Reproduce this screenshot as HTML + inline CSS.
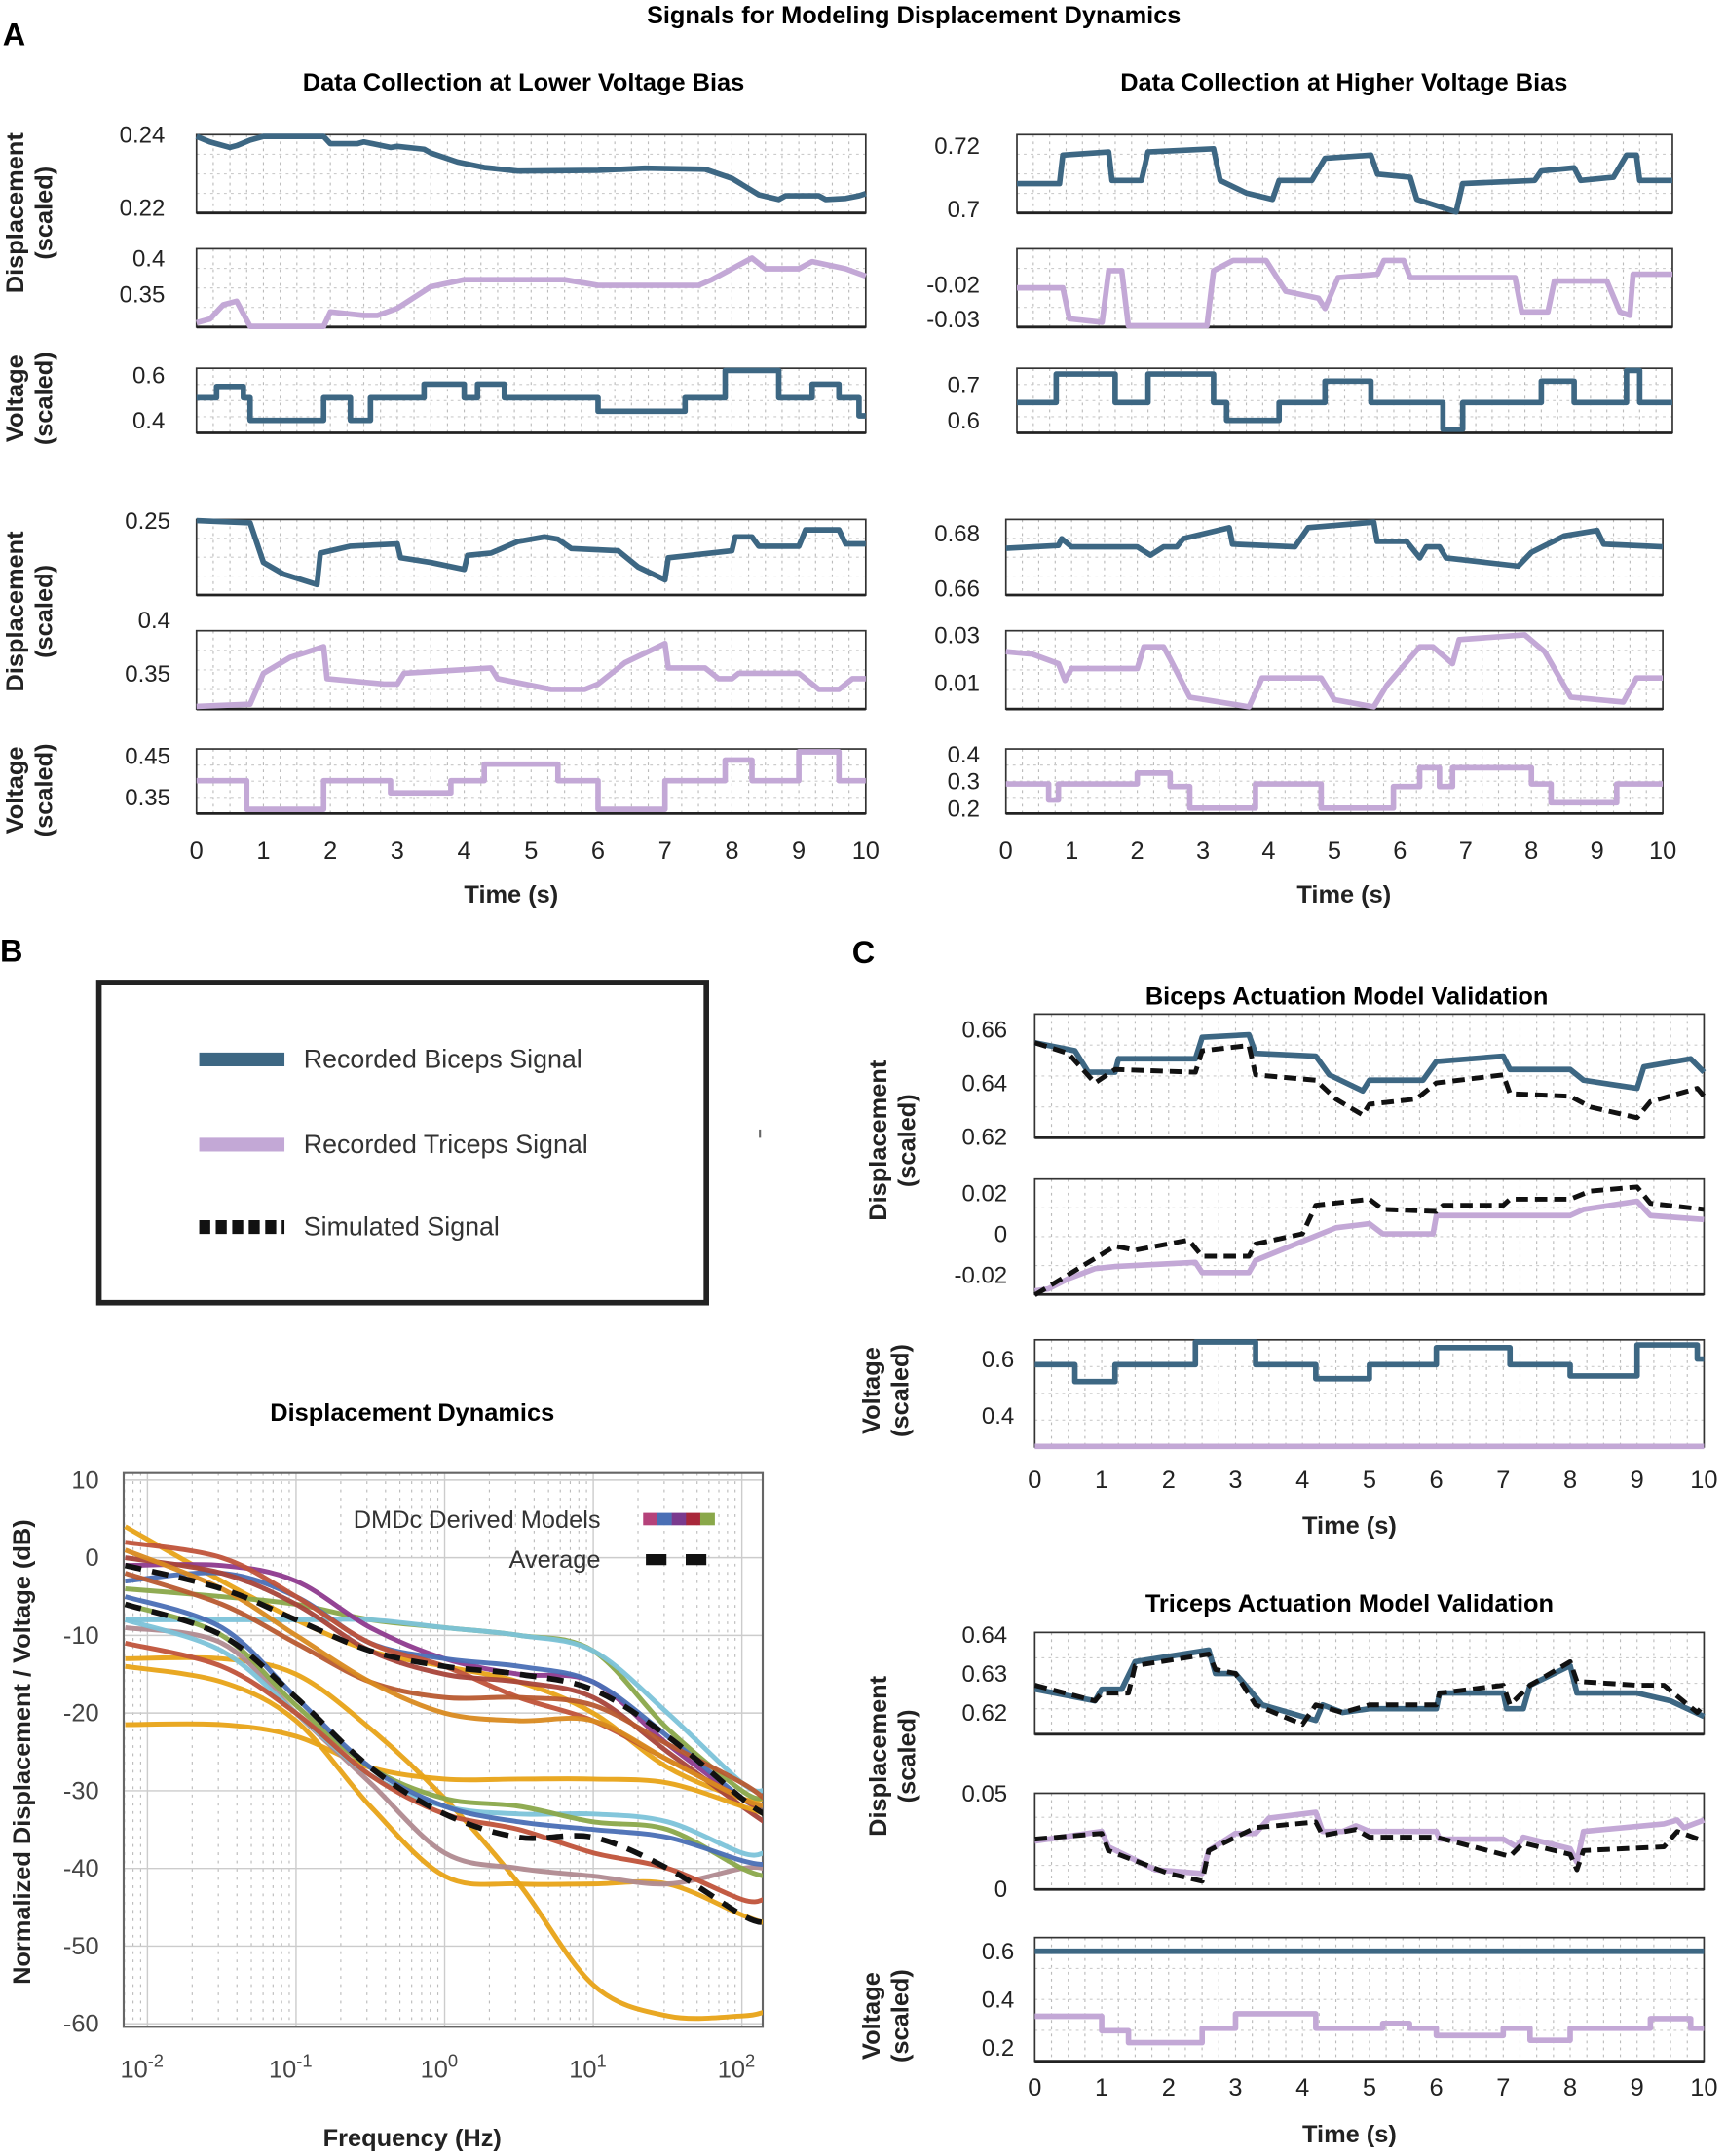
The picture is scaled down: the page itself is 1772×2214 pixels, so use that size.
<!DOCTYPE html>
<html><head><meta charset="utf-8"><style>
html,body{margin:0;padding:0;background:#fff;}
svg{display:block;}
text{font-family:"Liberation Sans",sans-serif;}
</style></head><body>
<svg id="fig" width="1772" height="2214" viewBox="0 0 1256 1569" preserveAspectRatio="none" xmlns="http://www.w3.org/2000/svg">
<text x="665" y="17" text-anchor="middle" font-size="18" font-weight="bold">Signals for Modeling Displacement Dynamics</text>
<text x="2" y="33" font-size="23" font-weight="bold">A</text>
<text x="0" y="700" font-size="23" font-weight="bold">B</text>
<text x="620" y="701" font-size="23" font-weight="bold">C</text>
<text x="381" y="66" text-anchor="middle" font-size="18" font-weight="bold">Data Collection at Lower Voltage Bias</text>
<text x="978" y="66" text-anchor="middle" font-size="18" font-weight="bold">Data Collection at Higher Voltage Bias</text>
<text x="980" y="731" text-anchor="middle" font-size="18" font-weight="bold">Biceps Actuation Model Validation</text>
<text x="982" y="1173" text-anchor="middle" font-size="18" font-weight="bold">Triceps Actuation Model Validation</text>
<text x="300" y="1034" text-anchor="middle" font-size="18" font-weight="bold">Displacement Dynamics</text>
<g>
<rect x="72" y="715" width="442" height="233" fill="none" stroke="#222" stroke-width="4"/>
<line x1="145" y1="771" x2="207" y2="771" stroke="#3d6783" stroke-width="10"/>
<text x="221" y="777" font-size="19" fill="#333">Recorded Biceps Signal</text>
<line x1="145" y1="833" x2="207" y2="833" stroke="#c3a8d6" stroke-width="10"/>
<text x="221" y="839" font-size="19" fill="#333">Recorded Triceps Signal</text>
<line x1="145" y1="893" x2="207" y2="893" stroke="#111" stroke-width="10" stroke-dasharray="8,4"/>
<text x="221" y="899" font-size="19" fill="#333">Simulated Signal</text>
</g>
<line x1="553" y1="822" x2="553" y2="828" stroke="#666" stroke-width="1.5"/>
</svg>
<script>
// ---- Panel A data (time in s, values scaled) ----
const a1T=[0,0.2,0.5,0.6,0.8,1,1.9,2,2.4,2.5,2.9,3,3.4,3.5,3.9,4.3,4.8,6,6.7,7.6,8.0,8.4,8.7,8.8,9.3,9.4,9.7,9.9,10];
const a1V=[0.2395,0.238,0.2365,0.237,0.2385,0.2395,0.2395,0.2375,0.2375,0.238,0.2365,0.2368,0.236,0.235,0.2325,0.231,0.2300,0.2302,0.2308,0.2305,0.228,0.2235,0.2222,0.2232,0.2232,0.2222,0.2225,0.2232,0.2238];
const a2T=[0,0.2,0.4,0.6,0.8,1.0,1.9,2.0,2.5,2.7,3.0,3.5,4.0,5.5,6.0,7.5,7.7,8.3,8.5,9.0,9.2,9.7,10];
const a2V=[0.31,0.315,0.335,0.34,0.305,0.305,0.305,0.325,0.32,0.32,0.33,0.36,0.37,0.37,0.362,0.362,0.37,0.40,0.385,0.385,0.395,0.385,0.375];
const a3T=[0,0.3,0.7,0.8,1.9,2.3,2.6,3.4,4.0,4.2,4.6,6.0,7.3,7.9,8.7,9.2,9.6,9.9,10];
const a3V=[0.5,0.55,0.5,0.4,0.5,0.4,0.5,0.56,0.5,0.56,0.5,0.44,0.5,0.62,0.5,0.56,0.5,0.42];
const a4T=[0,0.8,1.0,1.3,1.8,1.85,2.3,3.0,3.05,3.5,4.0,4.05,4.4,4.8,5.2,5.4,5.6,6.3,6.6,7.0,7.05,8.0,8.05,8.3,8.4,9.0,9.1,9.6,9.7,10];
const a4V=[0.25,0.249,0.232,0.227,0.2225,0.236,0.239,0.240,0.234,0.232,0.229,0.235,0.236,0.241,0.243,0.242,0.238,0.237,0.23,0.2245,0.234,0.237,0.243,0.243,0.239,0.239,0.246,0.246,0.240,0.240];
const a5T=[0,0.8,1.0,1.4,1.9,1.95,2.8,3.0,3.1,4.4,4.5,5.3,5.8,6.0,6.4,7.0,7.05,7.6,7.8,8.0,8.1,9.0,9.3,9.6,9.8,10];
const a5V=[0.319,0.321,0.35,0.365,0.375,0.345,0.34,0.34,0.35,0.355,0.345,0.335,0.335,0.34,0.36,0.378,0.355,0.355,0.345,0.345,0.35,0.35,0.335,0.335,0.345,0.345];
const a6T=[0,0.75,1.9,2.9,3.8,4.3,5.4,6.0,7.0,7.9,8.3,9.0,9.6,10];
const a6V=[0.39,0.32,0.39,0.36,0.39,0.43,0.39,0.32,0.39,0.44,0.39,0.46,0.39];
const r1T=[0,0.65,0.7,1.4,1.45,1.9,2.0,3.0,3.1,3.5,3.9,4.0,4.5,4.7,5.4,5.5,6.0,6.1,6.7,6.8,7.9,8.0,8.5,8.6,9.1,9.3,9.45,9.5,10];
const r1V=[0.708,0.708,0.717,0.718,0.709,0.709,0.718,0.719,0.709,0.705,0.703,0.709,0.709,0.716,0.717,0.711,0.710,0.703,0.699,0.708,0.709,0.712,0.713,0.709,0.710,0.717,0.717,0.709,0.709];
const r2T=[0,0.7,0.8,1.3,1.4,1.6,1.7,2.9,3.0,3.3,3.8,4.1,4.6,4.7,4.9,5.5,5.6,5.9,6.0,7.6,7.7,8.1,8.2,9.0,9.2,9.35,9.4,10];
const r2V=[-0.021,-0.021,-0.03,-0.031,-0.016,-0.016,-0.032,-0.032,-0.016,-0.013,-0.013,-0.022,-0.024,-0.027,-0.018,-0.017,-0.013,-0.013,-0.018,-0.018,-0.028,-0.028,-0.019,-0.019,-0.028,-0.029,-0.017,-0.017];
const r3T=[0,0.6,1.5,2.0,3.0,3.2,4.0,4.7,5.4,6.5,6.8,8.0,8.5,9.3,9.5,10];
const r3V=[0.65,0.73,0.65,0.73,0.65,0.60,0.65,0.71,0.65,0.575,0.65,0.71,0.65,0.74,0.65];
const r4T=[0,0.8,0.85,1.0,2.0,2.2,2.4,2.6,2.7,3.4,3.45,4.4,4.6,5.6,5.65,6.1,6.3,6.4,6.6,6.7,7.8,8.0,8.5,9.0,9.1,10];
const r4V=[0.6745,0.6755,0.678,0.675,0.675,0.672,0.675,0.675,0.678,0.682,0.676,0.675,0.682,0.684,0.677,0.677,0.671,0.675,0.675,0.671,0.668,0.673,0.679,0.681,0.676,0.675];
const r5T=[0,0.4,0.8,0.9,1.0,2.0,2.1,2.4,2.5,2.8,3.7,3.9,4.8,5.0,5.6,5.8,6.3,6.5,6.8,6.9,7.9,8.2,8.6,9.4,9.6,10];
const r5V=[0.023,0.022,0.018,0.011,0.016,0.016,0.025,0.025,0.02,0.004,0.0,0.012,0.012,0.003,0.0,0.009,0.025,0.025,0.018,0.028,0.030,0.023,0.004,0.002,0.012,0.012];
const r6T=[0,0.65,0.8,2.0,2.5,2.8,3.8,4.8,5.9,6.3,6.6,6.8,8.0,8.3,9.3,10];
const r6V=[0.29,0.23,0.29,0.33,0.28,0.2,0.29,0.2,0.28,0.35,0.28,0.35,0.29,0.22,0.29];
// ---- Panel C data ----
const c1T=[0,0.6,0.8,1.2,1.25,2.4,2.5,3.2,3.3,4.2,4.4,4.9,5.0,5.8,6.0,7.0,7.1,8.0,8.2,9.0,9.1,9.8,10];
const c1V=[0.655,0.652,0.644,0.644,0.649,0.649,0.657,0.658,0.651,0.650,0.643,0.637,0.641,0.641,0.648,0.650,0.645,0.645,0.641,0.638,0.646,0.649,0.644];
const c1SimT=[0,0.5,0.9,1.2,2.4,2.5,3.2,3.3,4.2,4.5,4.9,5.0,5.7,6.0,7.0,7.1,8.0,8.3,9.0,9.2,9.9,10];
const c1SimV=[0.655,0.651,0.640,0.645,0.644,0.652,0.654,0.643,0.641,0.634,0.628,0.632,0.634,0.640,0.643,0.636,0.635,0.631,0.627,0.633,0.638,0.635];
const c2T=[0,0.2,0.5,0.9,1.2,2.4,2.5,3.2,3.3,3.9,4.5,5.0,5.2,5.95,6.0,8.0,8.2,9.0,9.2,10];
const c2V=[-0.028,-0.027,-0.022,-0.017,-0.016,-0.014,-0.019,-0.019,-0.013,-0.005,0.003,0.005,0.0,0.0,0.009,0.009,0.012,0.016,0.009,0.007];
const c2SimT=[0,0.5,1.0,1.2,1.5,2.3,2.5,3.2,3.3,4.0,4.2,5.0,5.2,6.0,6.1,7.0,7.1,8.0,8.3,9.0,9.2,10];
const c2SimV=[-0.030,-0.020,-0.010,-0.006,-0.008,-0.003,-0.011,-0.011,-0.005,0.0,0.014,0.017,0.012,0.011,0.014,0.014,0.017,0.017,0.021,0.023,0.015,0.012];
const c3T=[0,0.6,1.2,2.4,3.3,4.2,5.0,6.0,7.1,8.0,9.0,9.9,10];
const c3V=[0.58,0.52,0.58,0.66,0.58,0.53,0.58,0.64,0.58,0.54,0.65,0.6];
const c3TriT=[0,10];
const c3TriV=[0.29];
const c4T=[0,0.9,1.0,1.3,1.5,2.6,2.7,3.0,3.4,4.2,4.3,4.6,5.0,6.0,6.05,7.0,7.05,7.3,7.4,8.0,8.1,9.0,9.5,10];
const c4V=[0.626,0.623,0.626,0.626,0.633,0.636,0.630,0.630,0.622,0.618,0.622,0.620,0.621,0.621,0.625,0.625,0.621,0.621,0.627,0.632,0.625,0.625,0.623,0.619];
const c4SimT=[0,0.9,1.0,1.4,1.5,2.6,2.7,3.0,3.3,4.0,4.2,4.6,5.0,6.0,6.05,7.0,7.1,7.4,8.0,8.1,9.0,9.4,9.9,10];
const c4SimV=[0.627,0.623,0.625,0.625,0.632,0.635,0.631,0.630,0.622,0.617,0.622,0.620,0.622,0.622,0.625,0.627,0.622,0.627,0.633,0.628,0.627,0.627,0.620,0.622];
const c5T=[0,1.0,1.1,1.8,2.5,2.6,3.0,3.3,3.5,4.2,4.3,4.6,4.8,5.0,6.0,6.05,7.0,7.2,7.3,8.0,8.1,8.2,9.4,9.6,9.7,10];
const c5V=[0.025,0.030,0.022,0.010,0.008,0.020,0.029,0.029,0.037,0.040,0.030,0.030,0.033,0.030,0.030,0.026,0.026,0.022,0.027,0.021,0.014,0.030,0.034,0.036,0.032,0.036];
const c5SimT=[0,1.0,1.1,2.0,2.5,2.6,3.0,3.3,4.2,4.3,4.8,5.0,6.0,7.1,7.3,8.0,8.1,8.2,9.4,9.6,10];
const c5SimV=[0.026,0.029,0.020,0.008,0.004,0.020,0.027,0.032,0.035,0.028,0.031,0.027,0.027,0.017,0.024,0.018,0.010,0.020,0.022,0.030,0.025];
const c6T=[0,1.0,1.4,2.5,3.0,4.2,5.2,5.6,6.0,7.0,7.4,8.0,9.2,9.8,10];
const c6V=[0.33,0.27,0.22,0.28,0.34,0.28,0.30,0.28,0.25,0.28,0.23,0.28,0.32,0.28];
const c6BicT=[0,10];
const c6BicV=[0.6];
// ---- Panel B (bode) data: dB at log10 frequencies ----
const bodeLogF=[-2.15,-1.5,-1,-0.5,0,0.5,1,1.5,2,2.15];
const bodeColors=["#e8a317","#8aa84a","#7cc3d9","#8e3a8e","#4a6fb5","#c0533a","#a8453a","#e8a317","#e8a317","#e8a317","#b08a90","#7cc3d9","#8aa84a","#c0533a","#4a6fb5","#b85a30","#d98a20"];
const bodeModels=[
[4,-3,-8,-12,-14,-16,-20,-27,-31,-31],
[-4,-5,-6,-8,-9,-10,-12,-22,-30,-31],
[-8,-8,-8,-8,-9,-10,-12,-20,-29,-30],
[-1,-1,-3,-9,-13,-15,-16,-24,-31,-32],
[-3,-2,-5,-11,-13,-14,-16,-23,-31,-32],
[2,0,-5,-11,-14,-18,-21,-26,-31,-33],
[0,-2,-6,-12,-15,-16,-18,-25,-32,-34],
[-21.5,-21.5,-23,-27,-28.5,-28.5,-28.5,-29,-32,-33],
[-13,-13,-15,-22,-31,-42,-55,-59,-59,-58.5],
[-14,-16,-21,-32,-41,-42,-42,-42,-46,-47],
[-9,-11,-20,-29,-38,-40,-41,-42,-40,-40],
[-8,-12,-20,-28,-32,-33,-33,-34,-38,-38],
[-6,-10,-19,-27,-31,-32,-34,-35,-40,-41],
[-11,-14,-20,-28,-33,-35,-38,-40,-44,-44],
[-5,-9,-18,-27,-32,-34,-35,-36,-39,-39.5],
[-2,-6,-11,-16,-18,-18,-19,-24,-29,-31],
[1,-4,-10,-16,-20,-21,-21,-26,-31,-32]
];
const bodeAvgUpper=[-1,-4,-8,-12,-14,-15,-17,-23,-31,-33];
const bodeAvgLower=[-6,-10,-18,-27,-33,-36,-36,-40,-46,-47];
const bodeYTicks=[10,0,-10,-20,-30,-40,-50,-60];
const bodeXTicks=[-2,-1,0,1,2];
const timeTicks=[0,1,2,3,4,5,6,7,8,9,10];

const NS="http://www.w3.org/2000/svg";
const svg=document.getElementById('fig');
const BLUE="#3d6783", LILAC="#c3a8d6";
function mk(tag,attrs,parent){const e=document.createElementNS(NS,tag);for(const k in attrs)e.setAttribute(k,attrs[k]);(parent||svg).appendChild(e);return e;}
function txt(x,y,s,size,anchor,parent,extra){const e=mk('text',Object.assign({x:x,y:y,'font-size':size,'text-anchor':anchor||'start',fill:'#222'},extra||{}),parent);e.textContent=s;return e;}

function panel(name,x0,x1,y0,y1,dom,ticks,tickX,series,showTime){
  const g=mk('g',{});
  
  
  const sx=t=>x0+(t/10)*(x1-x0);
  const sy=v=>y1-(v-dom[0])/(dom[1]-dom[0])*(y1-y0);
  for(let t=0.25;t<10;t+=0.25){mk('line',{x1:sx(t),x2:sx(t),y1:y0,y2:y1,stroke:'#bbb','stroke-width':0.8,'stroke-dasharray':'2,3'},g);}
  for(let k=1;k<4;k++){const yy=y0+k*(y1-y0)/4;mk('line',{x1:x0,x2:x1,y1:yy,y2:yy,stroke:'#ccc','stroke-width':0.8,'stroke-dasharray':'2,3'},g);}
  mk('rect',{x:x0,y:y0,width:x1-x0,height:y1-y0,fill:'none',stroke:'#333','stroke-width':1.2},g);
  mk('line',{x1:x0,x2:x1,y1:y1,y2:y1,stroke:'#222','stroke-width':2},g);
  ticks.forEach(v=>{const lab=txt(tickX,sy(v)+6,String(v),17,'end',g);
    
    });
  series.forEach(s=>{
    let pts=[];
    if(s.step){for(let i=0;i<s.v.length;i++){pts.push([s.t[i],s.v[i]]);pts.push([s.t[i+1],s.v[i]]);}}
    else{for(let i=0;i<s.t.length;i++)pts.push([s.t[i],s.v[i]]);}
    const d=pts.map((p,i)=>(i?'L':'M')+sx(p[0]).toFixed(1)+','+Math.max(y0-8,Math.min(y1+2,sy(p[1]))).toFixed(1)).join(' ');
    const p=mk('path',{d:d,fill:'none',stroke:s.c,'stroke-width':s.w||4,'stroke-linejoin':'round','stroke-dasharray':s.dash||'none'},g);
    
    
  });
  if(showTime){timeTicks.forEach(t=>{const l=txt(sx(t),showTime,String(t),18,'middle',g);
    
    });}
  return g;
}
function ylab(name,x,y,lines,size){
  const g=mk('g',{transform:`translate(${x},${y}) rotate(-90)`});
  
  
  lines.forEach((s,i)=>txt(0,i*21,s,size||18,'middle',g,{'font-weight':'bold'}));
}
const L0=143,L1=630,R0=740,R1=1217,R0b=732,R1b=1210;
panel('lower-bias-displacement-biceps',L0,L1,98,155,[0.2185,0.2400],[0.24,0.22],120,[{t:a1T,v:a1V,c:BLUE,n:'biceps-signal'}]);
panel('lower-bias-displacement-triceps',L0,L1,181,238,[0.304,0.413],[0.4,0.35],120,[{t:a2T,v:a2V,c:LILAC,n:'triceps-signal'}]);
panel('lower-bias-voltage-biceps',L0,L1,268,315,[0.345,0.630],[0.6,0.4],120,[{t:a3T,v:a3V,c:BLUE,step:1,n:'biceps-voltage'}]);
panel('lower-bias-displacement-biceps-2',L0,L1,378,433,[0.218,0.2505],[0.25],124,[{t:a4T,v:a4V,c:BLUE,n:'biceps-signal'}]);
panel('lower-bias-displacement-triceps-2',L0,L1,459,516,[0.3165,0.39],[0.4,0.35],124,[{t:a5T,v:a5V,c:LILAC,n:'triceps-signal'}]);
panel('lower-bias-voltage-triceps',L0,L1,545,592,[0.31,0.467],[0.45,0.35],124,[{t:a6T,v:a6V,c:LILAC,step:1,n:'triceps-voltage'}],625);
panel('higher-bias-displacement-biceps',R0,R1,98,155,[0.6987,0.7235],[0.72,0.7],713,[{t:r1T,v:r1V,c:BLUE,n:'biceps-signal'}]);
panel('higher-bias-displacement-triceps',R0,R1,181,238,[-0.0324,-0.0096],[-0.02,-0.03],713,[{t:r2T,v:r2V,c:LILAC,n:'triceps-signal'}]);
panel('higher-bias-voltage-biceps',R0,R1,268,315,[0.565,0.746],[0.7,0.6],713,[{t:r3T,v:r3V,c:BLUE,step:1,n:'biceps-voltage'}]);
panel('higher-bias-displacement-biceps-2',R0b,R1b,378,433,[0.6575,0.685],[0.68,0.66],713,[{t:r4T,v:r4V,c:BLUE,n:'biceps-signal'}]);
panel('higher-bias-displacement-triceps-2',R0b,R1b,459,516,[-0.0009,0.0317],[0.03,0.01],713,[{t:r5T,v:r5V,c:LILAC,n:'triceps-signal'}]);
panel('higher-bias-voltage-triceps',R0b,R1b,545,592,[0.18,0.42],[0.4,0.3,0.2],713,[{t:r6T,v:r6V,c:LILAC,step:1,n:'triceps-voltage'}],625);
const C0=753,C1=1240;
panel('biceps-validation-displacement-biceps',C0,C1,738,828,[0.6195,0.6657],[0.66,0.64,0.62],733,[{t:c1T,v:c1V,c:BLUE,n:'recorded-biceps'},{t:c1SimT,v:c1SimV,c:'#111',w:3.5,dash:'9,5',n:'simulated-biceps'}]);
panel('biceps-validation-displacement-triceps',C0,C1,858,942,[-0.0297,0.0269],[0.02,0,-0.02],733,[{t:c2T,v:c2V,c:LILAC,n:'recorded-triceps'},{t:c2SimT,v:c2SimV,c:'#111',w:3.5,dash:'9,5',n:'simulated-triceps'}]);
panel('biceps-validation-voltage',C0,C1,975,1053,[0.288,0.668],[0.6,0.4],738,[{t:c3TriT,v:c3TriV,c:LILAC,step:1,n:'triceps-voltage'},{t:c3T,v:c3V,c:BLUE,step:1,n:'biceps-voltage'}],1083);
panel('triceps-validation-displacement-biceps',C0,C1,1188,1262,[0.6145,0.6405],[0.64,0.63,0.62],733,[{t:c4T,v:c4V,c:BLUE,n:'recorded-biceps'},{t:c4SimT,v:c4SimV,c:'#111',w:3.5,dash:'9,5',n:'simulated-biceps'}]);
panel('triceps-validation-displacement-triceps',C0,C1,1305,1375,[-0.0003,0.05],[0.05,0],733,[{t:c5T,v:c5V,c:LILAC,n:'recorded-triceps'},{t:c5SimT,v:c5SimV,c:'#111',w:3.5,dash:'9,5',n:'simulated-triceps'}]);
panel('triceps-validation-voltage',C0,C1,1410,1500,[0.143,0.657],[0.6,0.4,0.2],738,[{t:c6T,v:c6V,c:LILAC,step:1,n:'triceps-voltage'},{t:c6BicT,v:c6BicV,c:BLUE,step:1,n:'biceps-voltage'}],1525);
// axis titles
[[372,657],[978,657],[982,1116],[982,1559]].forEach(p=>{const e=txt(p[0],p[1],'Time (s)',18,'middle',svg,{'font-weight':'bold'});
  
  });
ylab('y-axis-title-displacement',17,155,['Displacement','(scaled)']);
ylab('y-axis-title-voltage',17,290,['Voltage','(scaled)']);
ylab('y-axis-title-displacement',17,445,['Displacement','(scaled)']);
ylab('y-axis-title-voltage',17,575,['Voltage','(scaled)']);
ylab('y-axis-title-displacement',645,830,['Displacement','(scaled)']);
ylab('y-axis-title-voltage',640,1012,['Voltage','(scaled)']);
ylab('y-axis-title-displacement',645,1278,['Displacement','(scaled)']);
ylab('y-axis-title-voltage',640,1467,['Voltage','(scaled)']);

// ---- Bode plot ----
(function(){
  const x0=90,x1=555,y0=1072,y1=1475;
  const fx=lf=>x0+(lf+2.16)/(4.3)*(x1-x0);
  const fy=db=>y0+(10.9-db)/(10.9+60.4)*(y1-y0);
  const g=mk('g',{});
  
  
  for(let d=-3;d<=2;d++){for(let m=2;m<=9;m++){const lf=d+Math.log10(m);if(lf<-2.16||lf>2.14)continue;
    mk('line',{x1:fx(lf),x2:fx(lf),y1:y0,y2:y1,stroke:'#bbb','stroke-width':0.8,'stroke-dasharray':'2,4'},g);}}
  bodeXTicks.forEach(lf=>mk('line',{x1:fx(lf),x2:fx(lf),y1:y0,y2:y1,stroke:'#ccc','stroke-width':1},g));
  bodeYTicks.forEach(db=>mk('line',{x1:x0,x2:x1,y1:fy(db),y2:fy(db),stroke:'#ccc','stroke-width':1},g));
  mk('rect',{x:x0,y:y0,width:x1-x0,height:y1-y0,fill:'none',stroke:'#666','stroke-width':1.5},g);
  function smooth(vals){
    const P=bodeLogF.map((lf,i)=>[fx(lf),fy(vals[i])]);
    let d='M'+P[0][0].toFixed(1)+','+P[0][1].toFixed(1);
    for(let i=0;i<P.length-1;i++){const p0=P[i-1]||P[i],p1=P[i],p2=P[i+1],p3=P[i+2]||P[i+1];
      d+=' C'+(p1[0]+(p2[0]-p0[0])/6).toFixed(1)+','+(p1[1]+(p2[1]-p0[1])/6).toFixed(1)+' '+(p2[0]-(p3[0]-p1[0])/6).toFixed(1)+','+(p2[1]-(p3[1]-p1[1])/6).toFixed(1)+' '+p2[0].toFixed(1)+','+p2[1].toFixed(1);}
    return d;}
  const clip=mk('clipPath',{id:'bodeclip'},g);mk('rect',{x:x0,y:y0,width:x1-x0,height:y1-y0},clip);
  const cg=mk('g',{'clip-path':'url(#bodeclip)'},g);
  bodeModels.forEach((m,i)=>{const p=mk('path',{d:smooth(m),fill:'none',stroke:bodeColors[i],'stroke-width':3.5,opacity:0.95},cg);
    
    });
  [bodeAvgUpper,bodeAvgLower].forEach(m=>{const p=mk('path',{d:smooth(m),fill:'none',stroke:'#111','stroke-width':4,'stroke-dasharray':'12,8'},cg);
    
    });
  bodeYTicks.forEach(db=>{const l=txt(72,fy(db)+6,String(db),18,'end',g,{fill:'#444'});
    
    });
  bodeXTicks.forEach(lf=>{const l=mk('text',{x:fx(lf)-4,y:1512,'font-size':18,'text-anchor':'middle',fill:'#444'},g);
    
    
    l.textContent='10';const s=mk('tspan',{dy:-8,'font-size':13},l);s.textContent=String(lf);});
  const ft=txt(300,1562,'Frequency (Hz)',18,'middle',g,{'font-weight':'bold'});
  
  
  const yt=mk('text',{transform:'translate(22,1275) rotate(-90)','font-size':18,'font-weight':'bold','text-anchor':'middle',fill:'#222'},g);
  yt.textContent='Normalized Displacement / Voltage  (dB)';
  
  
  const l1=txt(437,1112,'DMDc Derived Models',18,'end',g,{fill:'#333'});
  
  
  ['#b5427a','#4a6fb5','#7a3a8e','#a8283a','#8aa84a'].forEach((c,i)=>mk('rect',{x:468+i*10.4,y:1101,width:10.6,height:9,fill:c},g));
  const l2=txt(437,1141,'Average',18,'end',g,{fill:'#333'});
  
  
  mk('line',{x1:470,x2:518,y1:1135,y2:1135,stroke:'#111','stroke-width':8,'stroke-dasharray':'15,14'},g);
})();
</script>
</body></html>
